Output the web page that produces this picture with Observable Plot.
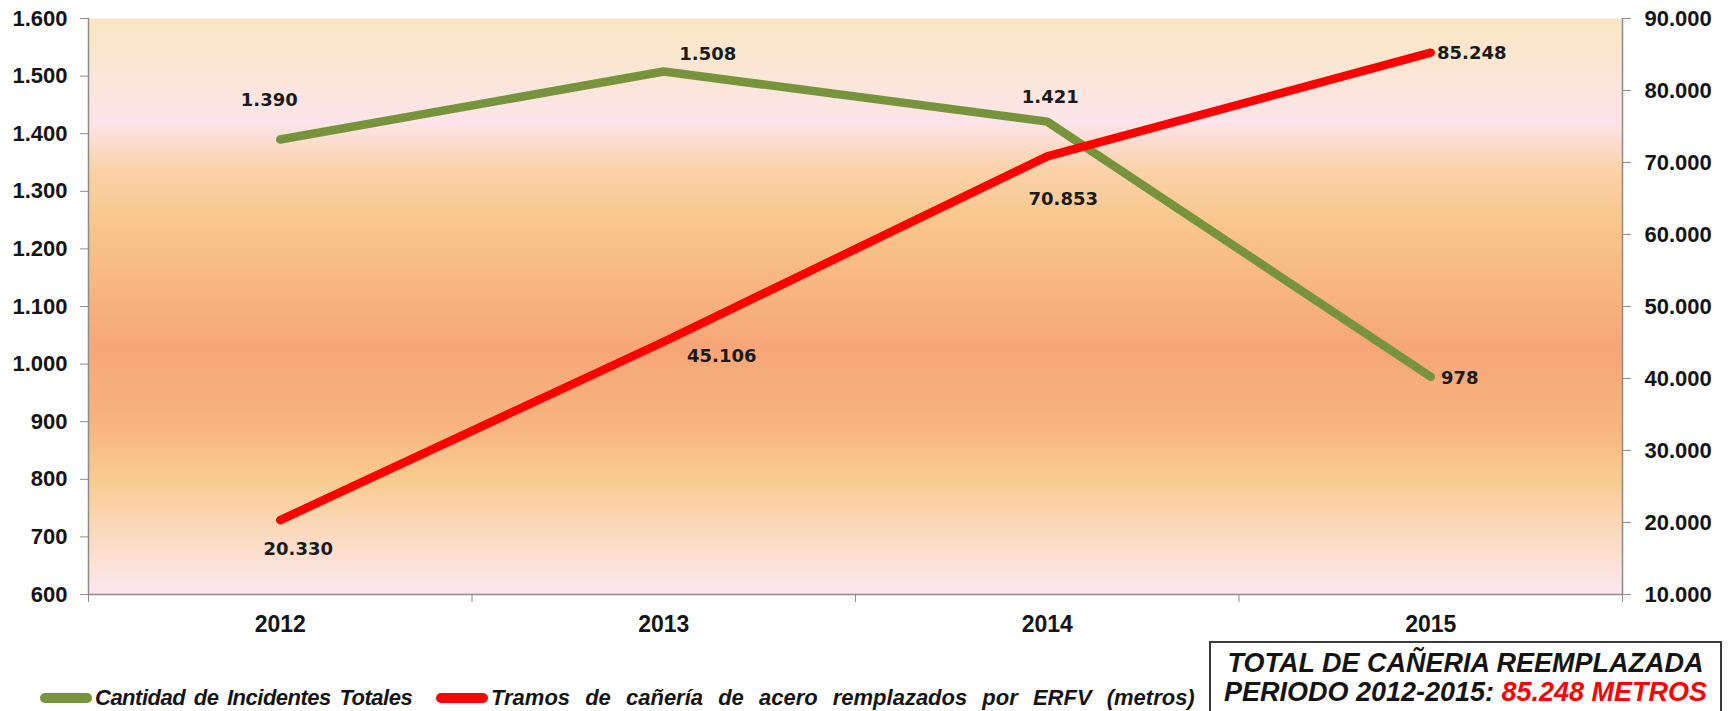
<!DOCTYPE html>
<html><head><meta charset="utf-8">
<script src="https://cdn.jsdelivr.net/npm/d3@7"></script>
<script src="https://cdn.jsdelivr.net/npm/@observablehq/plot@0.6"></script>
<style>
html,body{margin:0;padding:0;background:#fff;}
#wrap{position:relative;width:1729px;height:711px;overflow:hidden;}
.item{position:absolute;top:684px;height:28px;display:flex;align-items:center;white-space:nowrap;
  font-family:"Liberation Sans",Arial,sans-serif;
  font-style:italic;font-weight:bold;font-size:22px;color:#151515;}
.sw{display:inline-block;width:52px;height:10px;border-radius:5px;margin-right:3px;flex:none;}
.box{position:absolute;left:1209px;top:641px;width:509px;height:90px;border:2px solid #3a3a3a;
  font-family:"Liberation Sans",Arial,sans-serif;font-style:italic;font-weight:bold;font-size:27px;
  line-height:29px;text-align:center;color:#151515;padding-top:6px;box-sizing:content-box;white-space:nowrap;}
.box .red{color:#ff0000;}
</style></head><body>
<div id="wrap"><div id="chart"></div><div id="legend"></div><div class="box" id="box"></div></div>
<script>
// ---- data ----
const years = [2012, 2013, 2014, 2015];
const incidentes = [1390, 1508, 1421, 978];
const tramos = [20330, 45106, 70853, 85248];
const leftTicks = [600, 700, 800, 900, 1000, 1100, 1200, 1300, 1400, 1500, 1600];
const rightTicks = [10000, 20000, 30000, 40000, 50000, 60000, 70000, 80000, 90000];
const seriesNames = ["Cantidad de Incidentes Totales", "Tramos de cañería de acero remplazados por ERFV (metros)"];
const boxLine1 = "TOTAL DE CAÑERIA REEMPLAZADA";
const boxLine2 = "PERIODO 2012-2015: ";
const boxValue = "85.248 METROS";

// ---- styling / layout ----
const colors = ["#77933C", "#FF0000"];
const incOffsets = [[-11, -39], [44, -17], [3, -24], [29, 1]];
const tramOffsets = [[18, 29], [58, 14], [16, 43], [41, 1]];
const legendLefts = [40, 436];
const legendSpacing = [{letterSpacing: "-0.5px", wordSpacing: "3px"}, {letterSpacing: "0px", wordSpacing: "9px"}];

const loc = d3.formatLocale({decimal: ",", thousands: ".", grouping: [3], currency: ["", ""]});
const fmt = loc.format(",");
const leftDomain = [leftTicks[0], leftTicks[leftTicks.length - 1]];
const rightDomain = [rightTicks[0], rightTicks[rightTicks.length - 1]];
const toLeft = d3.scaleLinear().domain(rightDomain).range(leftDomain);

const rows = years.map((year, i) => ({year, inc: incidentes[i], tram: tramos[i], tramY: toLeft(tramos[i])}));
const xDomain = [years[0] - 0.5, years[years.length - 1] + 0.5];
const bounds = years.map(y => y - 0.5).concat([years[years.length - 1] + 0.5]);

const axisColor = "#8c8c8c";
const txt = "#151515";
const labelStyle = {fontFamily: "DejaVu Sans, Verdana, sans-serif", fontWeight: "bold", fontSize: 18, fill: "#1a1a1a"};

const chart = Plot.plot({
  width: 1729, height: 640,
  marginTop: 18, marginBottom: 46, marginLeft: 88, marginRight: 107,
  style: {fontFamily: "Liberation Sans, Arial, sans-serif", background: "transparent", overflow: "visible"},
  x: {type: "linear", domain: xDomain, label: null},
  y: {domain: leftDomain, label: null},
  marks: [
    Plot.frame({fill: "url(#bg)", stroke: "none"}),
    Plot.ruleX([xDomain[0], xDomain[1]], {stroke: axisColor, strokeWidth: 1.5}),
    Plot.ruleY([leftDomain[0]], {stroke: axisColor, strokeWidth: 1.5}),
    Plot.axisY({anchor: "left", ticks: leftTicks, tickFormat: fmt, tickSize: 8, tickPadding: 13,
      fontSize: 22, fontWeight: "bold", stroke: axisColor, fill: txt, label: null}),
    Plot.axisY({anchor: "right", ticks: rightTicks.map(toLeft), tickFormat: d => fmt(Math.round(toLeft.invert(d))),
      tickSize: 8, tickPadding: 14, fontSize: 22, fontWeight: "bold", stroke: axisColor, fill: txt, label: null}),
    Plot.axisX({ticks: years, tickFormat: d => String(d), tickSize: 0, tickPadding: 21,
      fontSize: 23, fontWeight: "bold", fill: txt, label: null}),
    Plot.axisX({ticks: bounds, tickFormat: () => "", tickSize: 8, stroke: axisColor, label: null}),
    Plot.line(rows, {x: "year", y: "inc", stroke: colors[0], strokeWidth: 8.5, strokeLinecap: "round", strokeLinejoin: "round"}),
    Plot.line(rows, {x: "year", y: "tramY", stroke: colors[1], strokeWidth: 8.5, strokeLinecap: "round", strokeLinejoin: "round"}),
    rows.map((r, i) => Plot.text([r], {x: "year", y: "inc", text: d => fmt(d.inc), dx: incOffsets[i][0], dy: incOffsets[i][1], ...labelStyle})),
    rows.map((r, i) => Plot.text([r], {x: "year", y: "tramY", text: d => fmt(d.tram), dx: tramOffsets[i][0], dy: tramOffsets[i][1], ...labelStyle}))
  ]
});

// background gradient
const defs = d3.select(chart).insert("defs", ":first-child");
const lg = defs.append("linearGradient").attr("id", "bg").attr("x1", 0).attr("y1", 0).attr("x2", 0).attr("y2", 1);
[[0, "#FAE6C4"], [0.08, "#FBE6D2"], [0.18, "#FDE4EA"], [0.26, "#FAD3AA"], [0.35, "#F9C78D"],
 [0.57, "#F6A678"], [0.70, "#F7B37F"], [0.80, "#F9CB90"], [0.90, "#FBDBC2"], [1, "#FDE7EF"]]
  .forEach(([o, c]) => lg.append("stop").attr("offset", o).attr("stop-color", c));

document.getElementById("chart").appendChild(chart);

// legend
const legend = document.getElementById("legend");
seriesNames.forEach((name, i) => {
  const item = document.createElement("div");
  item.className = "item";
  item.style.left = legendLefts[i] + "px";
  item.style.letterSpacing = legendSpacing[i].letterSpacing;
  item.style.wordSpacing = legendSpacing[i].wordSpacing;
  const sw = document.createElement("span");
  sw.className = "sw"; sw.style.background = colors[i];
  item.appendChild(sw);
  item.appendChild(document.createTextNode(name));
  legend.appendChild(item);
});

// box
const box = document.getElementById("box");
box.innerHTML = "";
const l1 = document.createElement("div"); l1.textContent = boxLine1; box.appendChild(l1);
const l2 = document.createElement("div"); l2.appendChild(document.createTextNode(boxLine2));
const red = document.createElement("span"); red.className = "red"; red.textContent = boxValue; l2.appendChild(red);
box.appendChild(l2);
</script>
</body></html>
